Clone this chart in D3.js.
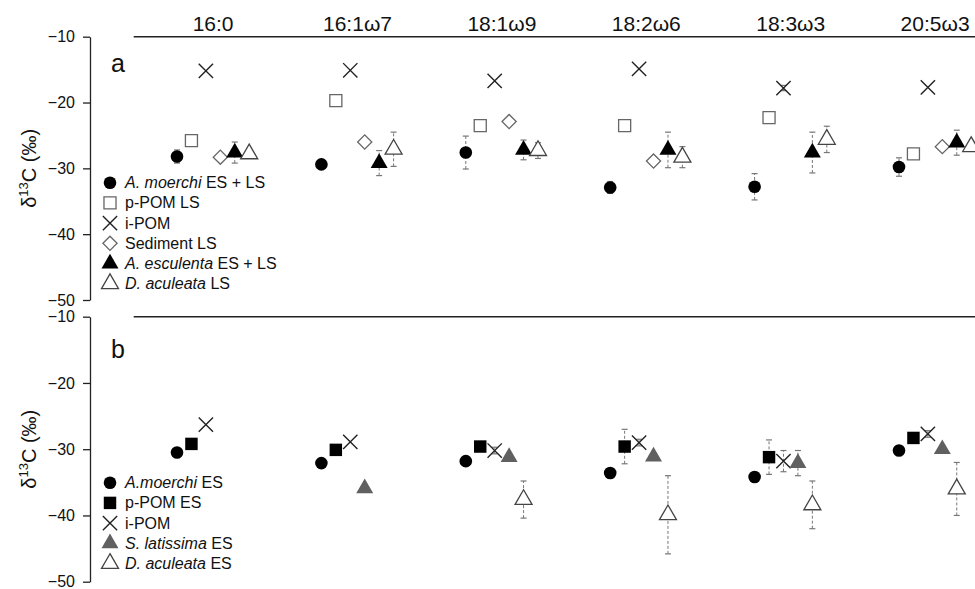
<!DOCTYPE html>
<html>
<head>
<meta charset="utf-8">
<script src="https://cdn.jsdelivr.net/npm/d3@7"></script>
<style>
  body { margin: 0; background: #fff; }
  text { font-family: "Liberation Sans", Arial, sans-serif; fill: #111; }
</style>
</head>
<body>
<svg id="chart"></svg>
<script>
// fatty acid groups along the top
const groups = ["16:0", "16:1ω7", "18:1ω9", "18:2ω6", "18:3ω3", "20:5ω3"];
const yTicks = [-10, -20, -30, -40, -50];

// panel a (ES + LS)
const moerchiA = [-28.2, -29.4, -27.6, -32.9, -32.8, -29.8];
const moerchiASd = [1.0, 0.4, 2.5, 0.9, 2.0, 1.4];
const pPomLS = [-25.8, -19.7, -23.5, -23.5, -22.3, -27.8];
const iPomA = [-15.2, -15.1, -16.7, -14.9, -17.8, -17.7];
const iPomASd = [0, 0, 0, 0, 0.4, 0];
const sedimentLS = [-28.3, -26.0, -22.9, -28.9, null, -26.7];
const esculenta = [-27.6, -29.2, -27.2, -27.2, -27.6, -26.1];
const esculentaSd = [1.6, 1.9, 1.5, 2.7, 3.1, 1.9];
const aculeataLS = [-27.8, -27.1, -27.3, -28.3, -25.6, -26.7];
const aculeataLSSd = [0.5, 2.6, 1.2, 1.6, 2.0, 0.5];

// panel b (ES)
const moerchiB = [-30.5, -32.1, -31.8, -33.6, -34.2, -30.2];
const moerchiBSd = [0, 0, 0, 0, 0.7, 0];
const pPomES = [-29.2, -30.1, -29.6, -29.6, -31.2, -28.3];
const pPomESSd = [0, 0, 0, 2.6, 2.6, 0];
const iPomB = [-26.3, -28.9, -30.2, -29.0, -31.8, -27.7];
const iPomBSd = [0, 0, 0.5, 0.5, 1.6, 0.5];
const latissima = [null, -35.9, -31.2, -31.1, -32.1, -30.0];
const latissimaSd = [0, 0, 0, 0, 1.9, 0];
const aculeataES = [null, null, -37.6, -39.9, -38.4, -36.0];
const aculeataESSd = [0, 0, 2.8, 5.9, 3.6, 4.0];

const width = 975, height = 589;
const svg = d3.select("#chart").attr("width", width).attr("height", height);

const x = d3.scaleLinear().domain([1, 6]).range([177, 899]);
const step = 0.1; // offset between series inside a group

const styles = {
  circle:   { type: d3.symbolCircle, size: 125, fill: "#000", stroke: "none" },
  openSq:   { type: d3.symbolSquare, size: 145, fill: "#fff", stroke: "#666", sw: 1.3 },
  fillSq:   { type: d3.symbolSquare, size: 155, fill: "#000", stroke: "none" },
  times:    { type: d3.symbolTimes, size: 135, fill: "none", stroke: "#222", sw: 1.4 },
  diamond:  { type: d3.symbolSquare, size: 100, fill: "#fff", stroke: "#666", sw: 1.3, rotate: 45 },
  fillTri:  { type: d3.symbolTriangle, size: 125, fill: "#000", stroke: "none" },
  grayTri:  { type: d3.symbolTriangle, size: 125, fill: "#606060", stroke: "none" },
  openTri:  { type: d3.symbolTriangle, size: 125, fill: "#fff", stroke: "#444", sw: 1.3 }
};

const panels = [
  {
    letter: "a", top: 36.7, bottom: 300, legendY: 182.7,
    series: [
      { vals: moerchiA, sd: moerchiASd, style: "circle", it: "A. moerchi", rest: " ES + LS" },
      { vals: pPomLS, sd: null, style: "openSq", it: "", rest: "p-POM LS" },
      { vals: iPomA, sd: iPomASd, style: "times", it: "", rest: "i-POM" },
      { vals: sedimentLS, sd: null, style: "diamond", it: "", rest: "Sediment LS" },
      { vals: esculenta, sd: esculentaSd, style: "fillTri", it: "A. esculenta", rest: " ES + LS" },
      { vals: aculeataLS, sd: aculeataLSSd, style: "openTri", it: "D. aculeata", rest: " LS" }
    ]
  },
  {
    letter: "b", top: 316.7, bottom: 581.7, legendY: 482.7,
    series: [
      { vals: moerchiB, sd: moerchiBSd, style: "circle", it: "A.moerchi", rest: " ES" },
      { vals: pPomES, sd: pPomESSd, style: "fillSq", it: "", rest: "p-POM ES" },
      { vals: iPomB, sd: iPomBSd, style: "times", it: "", rest: "i-POM" },
      { vals: latissima, sd: latissimaSd, style: "grayTri", it: "S. latissima", rest: " ES" },
      { vals: aculeataES, sd: aculeataESSd, style: "openTri", it: "D. aculeata", rest: " ES" }
    ]
  }
];

function drawSymbol(g, styleName, cx, cy) {
  const s = styles[styleName];
  g.append("path")
    .attr("d", d3.symbol().type(s.type).size(s.size)())
    .attr("transform", `translate(${cx},${cy})` + (s.rotate ? ` rotate(${s.rotate})` : ""))
    .attr("fill", s.fill)
    .attr("stroke", s.stroke)
    .attr("stroke-width", s.sw || 0);
}

panels.forEach(p => {
  const y = d3.scaleLinear().domain([-50, -10]).range([p.bottom, p.top]);
  const g = svg.append("g");

  // left axis
  const axis = g.append("g")
    .attr("transform", "translate(90,0)")
    .call(d3.axisLeft(y).tickValues(yTicks).tickSize(7).tickSizeOuter(0).tickPadding(8));
  axis.selectAll("path, line").attr("stroke", "#222").attr("stroke-width", 1.3);
  axis.selectAll("text").style("font-size", "16px").attr("fill", "#111")
    .style("font-family", "'Liberation Sans', Arial, sans-serif");

  // top line, group labels
  g.append("line")
    .attr("x1", x(0.7)).attr("x2", width)
    .attr("y1", y(-10)).attr("y2", y(-10))
    .attr("stroke", "#222").attr("stroke-width", 1.5);
  if (p.letter === "a") {
    g.selectAll(".grp").data(groups).enter().append("text")
      .attr("x", (d, i) => x(i + 1.25))
      .attr("y", y(-10) - 6)
      .attr("text-anchor", "middle")
      .style("font-size", "21px")
      .text(d => d);
  }

  // panel letter
  g.append("text").attr("x", 111).attr("y", y(-10) + (p.letter === "a" ? 35 : 41))
    .style("font-size", "25px").text(p.letter);

  // y label
  const lab = g.append("text")
    .attr("transform", `translate(36,${(p.top + p.bottom) / 2}) rotate(-90)`)
    .attr("text-anchor", "middle")
    .style("font-size", "20px");
  lab.append("tspan").text("δ");
  lab.append("tspan").attr("dy", -8).style("font-size", "13px").text("13");
  lab.append("tspan").attr("dy", 8).text("C (‰)");

  // error bars first, markers on top
  p.series.forEach((s, j) => {
    if (!s.sd) return;
    s.vals.forEach((v, i) => {
      const sd = s.sd[i];
      if (v === null || !sd) return;
      const cx = x(i + 1 + j * step);
      g.append("line")
        .attr("x1", cx).attr("x2", cx)
        .attr("y1", y(v - sd)).attr("y2", y(v + sd))
        .attr("stroke", "#777").attr("stroke-width", 1)
        .attr("stroke-dasharray", "3,2");
      [v - sd, v + sd].forEach(e => {
        g.append("line")
          .attr("x1", cx - 3).attr("x2", cx + 3)
          .attr("y1", y(e)).attr("y2", y(e))
          .attr("stroke", "#777").attr("stroke-width", 1.2);
      });
    });
  });

  p.series.forEach((s, j) => {
    s.vals.forEach((v, i) => {
      if (v === null) return;
      drawSymbol(g, s.style, x(i + 1 + j * step), y(v));
    });
  });

  // legend
  p.series.forEach((s, j) => {
    const ly = p.legendY + j * 20.2;
    drawSymbol(g, s.style, 110, ly);
    const t = g.append("text").attr("x", 125).attr("y", ly + 5.5).style("font-size", "16px");
    if (s.it) t.append("tspan").style("font-style", "italic").text(s.it);
    t.append("tspan").text(s.rest);
  });
});
</script>
</body>
</html>
